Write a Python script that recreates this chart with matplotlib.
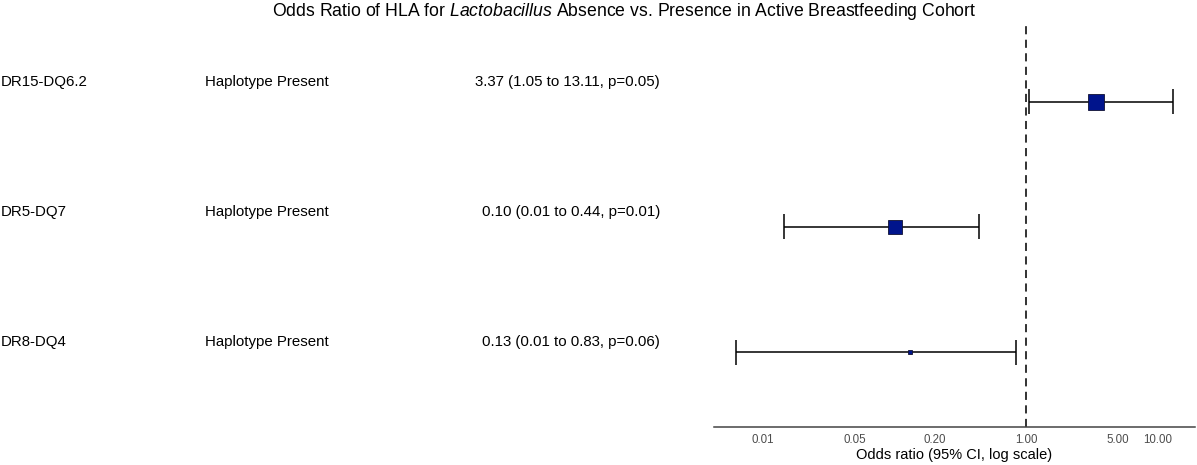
import numpy as np
import matplotlib
matplotlib.use("Agg")
from matplotlib import pyplot as plt

plt.rcParams['font.family'] = ['Liberation Sans', 'DejaVu Sans']
plt.rcParams['mathtext.fontset'] = 'custom'
plt.rcParams['mathtext.rm'] = 'Liberation Sans'
plt.rcParams['mathtext.it'] = 'Liberation Sans:italic'

# data (top row first)
haplotypes = ["DR15-DQ6.2", "DR5-DQ7", "DR8-DQ4"]
levels = ["Haplotype Present", "Haplotype Present", "Haplotype Present"]
odds_ratio = [3.37, 0.10, 0.13]
ci_lower = [1.05, 0.0145, 0.0062]
ci_upper = [13.11, 0.44, 0.83]
or_labels = ["3.37 (1.05 to 13.11, p=0.05)",
             "0.10 (0.01 to 0.44, p=0.01)",
             "0.13 (0.01 to 0.83, p=0.06)"]
tick_vals = [0.01, 0.05, 0.20, 1.00, 5.00, 10.00]
tick_labels = ["0.01", "0.05", "0.20", "1.00", "5.00", "10.00"]

W, H = 1197, 465
fig = plt.figure(figsize=(W / 100, H / 100), dpi=100)

n = len(haplotypes)
ypos = np.arange(n, 0, -1)

# forest panel
ax = fig.add_axes([714 / W, (H - 427.3) / H, (1195 - 714) / W, (427.3 - 26.4) / H])
ax.set_xscale('log')
lo, hi = np.log10(min(ci_lower)), np.log10(max(ci_upper))
pad = (hi - lo) * 0.05
ax.set_xlim(10 ** (lo - pad), 10 ** (hi + pad))
ax.set_ylim(0.4, n + 0.6)

ax.axvline(1, color='#222222', lw=1.3, ls=(0, (4.5, 3)), zorder=1)
ax.hlines(ypos, ci_lower, ci_upper, color='black', lw=1.1, zorder=2)
ax.vlines(ci_lower, ypos - 0.1, ypos + 0.1, color='black', lw=1.1, zorder=2)
ax.vlines(ci_upper, ypos - 0.1, ypos + 0.1, color='black', lw=1.1, zorder=2)
msizes = [12, 9.4, 2.7]
for x, y, s in zip(odds_ratio, ypos, msizes):
    ax.plot(x, y, marker='s', ms=s, mfc='#00148c', mec='#111133', mew=0.6, zorder=3)

for side in ['top', 'right', 'left']:
    ax.spines[side].set_visible(False)
ax.spines['bottom'].set_color('#444444')
ax.spines['bottom'].set_linewidth(1.1)
ax.set_yticks([])
ax.set_xticks(tick_vals)
ax.set_xticklabels(tick_labels)
ax.xaxis.set_minor_locator(matplotlib.ticker.NullLocator())
ax.tick_params(axis='x', length=0, pad=5, labelsize=8.3, labelcolor='#4d4d4d')
ax.set_xlabel("Odds ratio (95% CI, log scale)", fontsize=10.5, labelpad=1.5)

# table panel
tab = fig.add_axes([0, (H - 420) / H, 700 / W, 416 / H])
tab.set_xlim(0, 700)
tab.set_ylim(0.4, n + 0.6)
tab.axis('off')
for y, h, l, o in zip(ypos, haplotypes, levels, or_labels):
    tab.text(1, y, h, ha='left', va='center', fontsize=10.8)
    tab.text(205, y, l, ha='left', va='center', fontsize=10.8)
    tab.text(660, y, o, ha='right', va='center', fontsize=10.8)

fig.text(624 / W, 1 - 12 / H,
         r"Odds Ratio of HLA for $\mathit{Lactobacillus}$ Absence vs. Presence in Active Breastfeeding Cohort",
         ha='center', va='center', fontsize=12.7)

fig.savefig("out.png", dpi=100)
